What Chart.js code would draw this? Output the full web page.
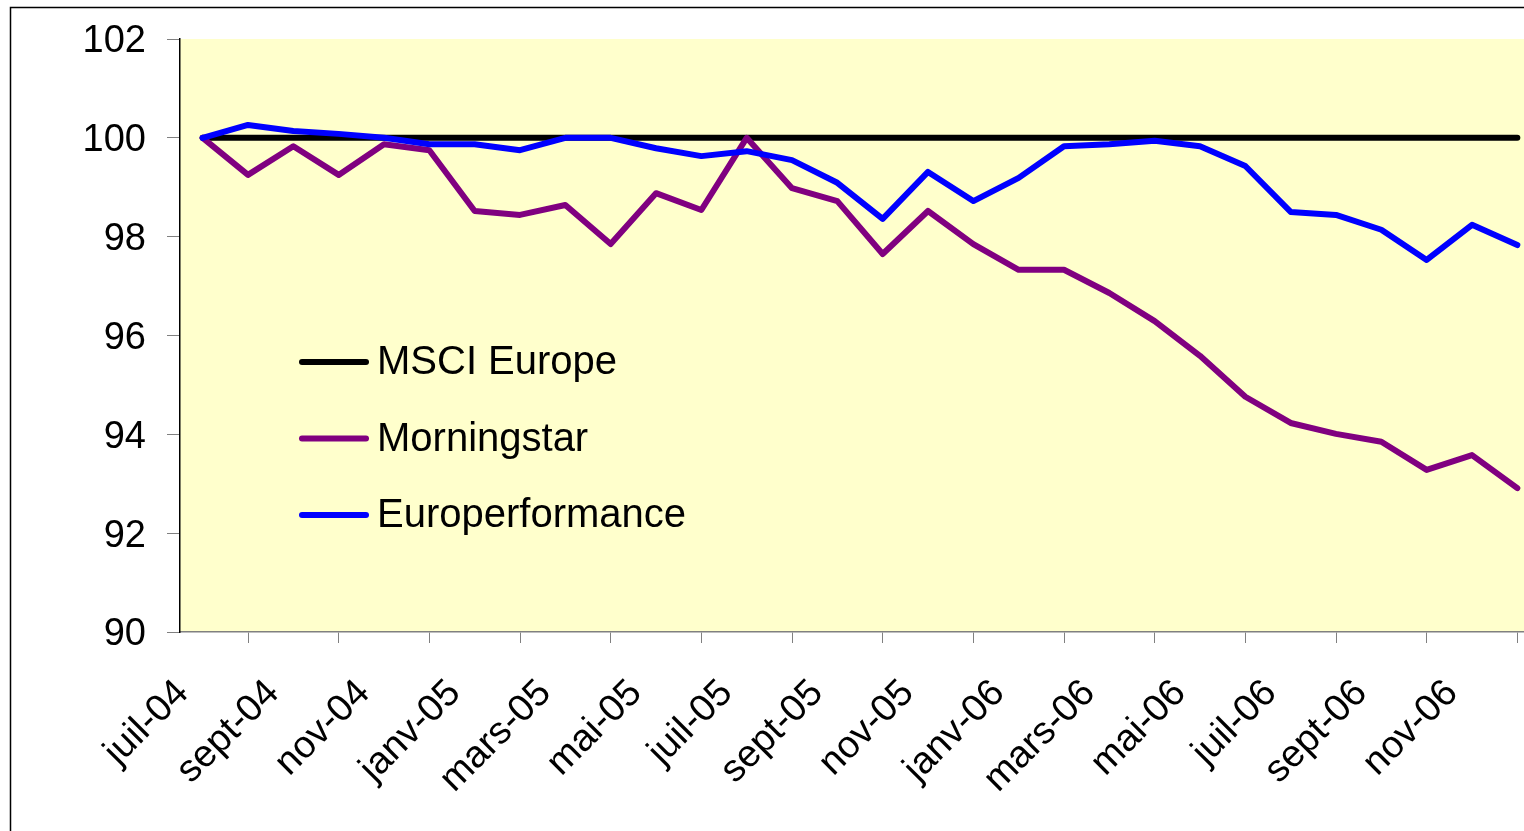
<!DOCTYPE html>
<html>
<head>
<meta charset="utf-8">
<script src="https://cdn.jsdelivr.net/npm/chart.js@4/dist/chart.umd.min.js"></script>
<style>
    html, body { margin: 0; padding: 0; background: #fff; overflow: hidden; }
    #wrap { position: absolute; left: 0; top: 0; width: 1545px; height: 831px; }
</style>
</head>
<body>
<div id="wrap"><canvas id="chart" width="1545" height="831"></canvas></div>
<script>
// Monthly categories (one point per month)
const months = [
    'juil-04', 'août-04', 'sept-04', 'oct-04', 'nov-04', 'déc-04',
    'janv-05', 'févr-05', 'mars-05', 'avr-05', 'mai-05', 'juin-05',
    'juil-05', 'août-05', 'sept-05', 'oct-05', 'nov-05', 'déc-05',
    'janv-06', 'févr-06', 'mars-06', 'avr-06', 'mai-06', 'juin-06',
    'juil-06', 'août-06', 'sept-06', 'oct-06', 'nov-06', 'déc-06'
];

const msciEurope = [
    100, 100, 100, 100, 100, 100, 100, 100, 100, 100, 100, 100, 100, 100, 100,
    100, 100, 100, 100, 100, 100, 100, 100, 100, 100, 100, 100, 100, 100, 100
];

const morningstar = [
    100.0, 99.25, 99.83, 99.25, 99.87, 99.75, 98.52, 98.44, 98.64, 97.85,
    98.88, 98.54, 100.0, 98.98, 98.72, 97.65, 98.52, 97.85, 97.33, 97.33,
    96.86, 96.29, 95.59, 94.76, 94.23, 94.01, 93.85, 93.28, 93.58, 92.91
];

const europerformance = [
    100.0, 100.26, 100.14, 100.08, 100.0, 99.87, 99.87, 99.75, 100.0, 100.0,
    99.79, 99.63, 99.73, 99.55, 99.09, 98.36, 99.31, 98.72, 99.19, 99.83,
    99.87, 99.94, 99.83, 99.43, 98.50, 98.44, 98.14, 97.53, 98.24, 97.83
];

const yTicks = [90, 92, 94, 96, 98, 100, 102];

const FONT = "'Liberation Sans', Arial, sans-serif";

// Yellow plot area + outer frame
const backgroundPlugin = {
    id: 'background',
    beforeDraw(chart) {
        const { ctx, chartArea } = chart;
        ctx.save();
        ctx.fillStyle = '#FFFFCC';
        ctx.fillRect(chartArea.left, chartArea.top, chartArea.right - chartArea.left, chartArea.bottom - chartArea.top);
        ctx.strokeStyle = '#000';
        ctx.lineWidth = 1.5;
        ctx.beginPath();
        ctx.moveTo(10.5, chart.height);
        ctx.lineTo(10.5, 7.5);
        ctx.lineTo(chart.width, 7.5);
        ctx.stroke();
        ctx.restore();
    }
};

// Legend drawn inside the plot area
const insideLegend = {
    id: 'insideLegend',
    afterDatasetsDraw(chart) {
        const { ctx, chartArea } = chart;
        const x0 = chartArea.left + 122;
        let y = chartArea.top + 323;
        ctx.save();
        ctx.font = '40px ' + FONT;
        ctx.textBaseline = 'middle';
        ctx.lineCap = 'round';
        chart.data.datasets.forEach(ds => {
            ctx.strokeStyle = ds.borderColor;
            ctx.lineWidth = 6;
            ctx.beginPath();
            ctx.moveTo(x0, y);
            ctx.lineTo(x0 + 64, y);
            ctx.stroke();
            ctx.fillStyle = '#000';
            ctx.fillText(ds.label, x0 + 75, y + 1);
            y += 76.5;
        });
        ctx.restore();
    }
};

const lineStyle = { borderWidth: 6, tension: 0, borderCapStyle: 'round', borderJoinStyle: 'round', fill: false, pointRadius: 0 };

const ctx = document.getElementById('chart').getContext('2d');
new Chart(ctx, {
    type: 'line',
    data: {
        labels: months,
        datasets: [
            { label: 'MSCI Europe', data: msciEurope, borderColor: '#000000', order: 2, ...lineStyle },
            { label: 'Morningstar', data: morningstar, borderColor: '#800080', order: 1, ...lineStyle },
            { label: 'Europerformance', data: europerformance, borderColor: '#0000FF', order: 0, ...lineStyle }
        ]
    },
    options: {
        responsive: false,
        animation: false,
        layout: { padding: { top: 39, left: 0, right: 5, bottom: 0 } },
        plugins: {
            legend: { display: false },
            tooltip: { enabled: false }
        },
        scales: {
            x: {
                offset: true,
                grid: {
                    offset: true,
                    drawOnChartArea: false,
                    drawTicks: true,
                    tickLength: 11,
                    color: '#808080'
                },
                border: { color: '#808080', width: 1.5 },
                ticks: {
                    autoSkip: false,
                    minRotation: 45,
                    maxRotation: 45,
                    padding: 28,
                    labelOffset: -20,
                    color: '#000',
                    font: { family: FONT, size: 38 },
                    callback(value, index) {
                        return index % 2 === 0 ? this.getLabelForValue(value) : null;
                    }
                },
                afterFit(scale) { scale.height = 199; }
            },
            y: {
                min: yTicks[0],
                max: yTicks[yTicks.length - 1],
                afterBuildTicks(scale) { scale.ticks = yTicks.map(v => ({ value: v })); },
                grid: {
                    drawOnChartArea: false,
                    drawTicks: true,
                    tickLength: 13,
                    color: '#808080'
                },
                border: { color: '#000', width: 1.5 },
                ticks: {
                    padding: 21,
                    labelOffset: 3,
                    color: '#000',
                    font: { family: FONT, size: 38 }
                },
                afterFit(scale) {
                    scale.width = 180;
                    scale.paddingTop = 0;
                    scale.paddingBottom = 0;
                }
            }
        }
    },
    plugins: [backgroundPlugin, insideLegend]
});
</script>
</body>
</html>
